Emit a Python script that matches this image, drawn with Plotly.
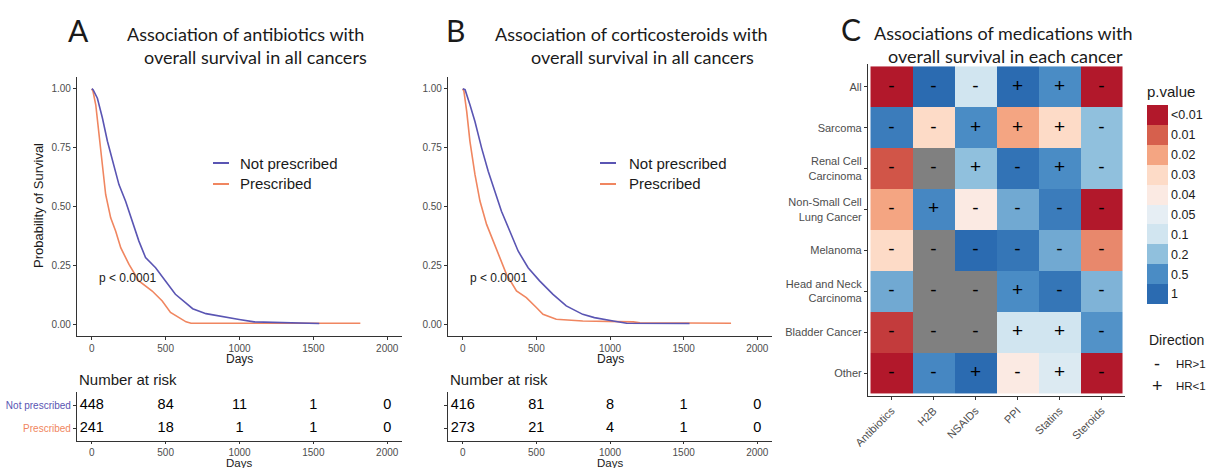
import numpy as np
import plotly.graph_objects as go

W, H = 1206, 468
def px(x): return x / W
def py(y): return 1 - y / H

# ---------------- Data ----------------
# Panel A: antibiotics
a_np_days = [0, 9, 38, 72, 106, 140, 184, 229, 274, 319, 364, 432, 499, 566, 634, 683, 773, 886, 998, 1099, 1268, 1540]
a_np_surv = [1.0, 0.996, 0.96, 0.876, 0.777, 0.692, 0.593, 0.522, 0.438, 0.353, 0.283, 0.240, 0.184, 0.127, 0.092, 0.066, 0.045, 0.031, 0.020, 0.010, 0.007, 0.003]
a_p_days = [0, 8, 27, 49, 72, 94, 128, 162, 196, 252, 319, 409, 477, 533, 591, 638, 672, 1818]
a_p_surv = [1.0, 0.99, 0.932, 0.805, 0.664, 0.551, 0.452, 0.395, 0.325, 0.254, 0.184, 0.141, 0.099, 0.050, 0.028, 0.010, 0.004, 0.004]

# Panel B: corticosteroids
b_np_days = [0, 16, 49, 83, 128, 173, 218, 263, 320, 376, 444, 522, 613, 703, 815, 894, 1022, 1113, 1540]
b_np_surv = [1.0, 0.996, 0.932, 0.861, 0.749, 0.650, 0.565, 0.480, 0.395, 0.311, 0.240, 0.184, 0.127, 0.078, 0.042, 0.028, 0.014, 0.004, 0.003]
b_p_days = [0, 8, 27, 49, 83, 117, 162, 207, 252, 297, 365, 432, 500, 545, 635, 815, 1158, 1203, 1822]
b_p_surv = [1.0, 0.99, 0.904, 0.777, 0.636, 0.523, 0.424, 0.353, 0.283, 0.212, 0.141, 0.113, 0.071, 0.042, 0.021, 0.014, 0.010, 0.006, 0.004]

risk_days = [0, 500, 1000, 1500, 2000]
a_risk_np = [448, 84, 11, 1, 0]
a_risk_p = [241, 18, 1, 1, 0]
b_risk_np = [416, 81, 8, 1, 0]
b_risk_p = [273, 21, 4, 1, 0]

# Panel C: heatmap
medications = ["Antibiotics", "H2B", "NSAIDs", "PPI", "Statins", "Steroids"]
cancers = ["All", "Sarcoma", "Renal Cell<br>Carcinoma", "Non-Small Cell<br>Lung Cancer", "Melanoma",
           "Head and Neck<br>Carcinoma", "Bladder Cancer", "Other"]
nan = float("nan")
pvalues = [
    [0.005, 1.0, 0.1, 1.0, 0.5, 0.005],
    [0.7, 0.03, 0.5, 0.02, 0.03, 0.2],
    [0.009, nan, 0.2, 0.85, 0.5, 0.2],
    [0.02, 0.55, 0.04, 0.3, 0.7, 0.005],
    [0.03, nan, 1.0, 0.8, 0.3, 0.015],
    [0.3, nan, nan, 0.5, 0.8, 0.25],
    [0.007, nan, nan, 0.1, 0.1, 0.45],
    [0.005, 0.55, 1.0, 0.04, 0.07, 0.005],
]
directions = [
    ["-", "-", "-", "+", "+", "-"],
    ["-", "-", "+", "+", "+", "-"],
    ["-", "-", "+", "-", "+", "-"],
    ["-", "+", "-", "-", "-", "-"],
    ["-", "-", "-", "-", "-", "-"],
    ["-", "-", "-", "+", "-", "-"],
    ["-", "-", "-", "+", "+", "-"],
    ["-", "-", "+", "-", "+", "-"],
]
p_breaks = [0.005, 0.01, 0.02, 0.03, 0.04, 0.05, 0.1, 0.2, 0.5, 1.0]
p_labels = ["<0.01", "0.01", "0.02", "0.03", "0.04", "0.05", "0.1", "0.2", "0.5", "1"]
p_colors = ["#B2182B", "#D6604D", "#F4A582", "#FDDBC7", "#FBEAE3",
            "#E6EEF4", "#D1E5F0", "#90C0DD", "#4A8CC5", "#2B6BB1"]

BLUE = "#5A55B3"
ORANGE = "#F08660"
AXC = "#333333"
TICKC = "#4D4D4D"
FONT = "Liberation Sans, Arial, sans-serif"
TFONT = "Lato, Open Sans, sans-serif"

fig = go.Figure()

# KM curves
for xa, ya, d1, s1, d2, s2 in [("x", "y", a_np_days, a_np_surv, a_p_days, a_p_surv),
                               ("x3", "y3", b_np_days, b_np_surv, b_p_days, b_p_surv)]:
    fig.add_trace(go.Scatter(x=d2, y=s2, mode="lines", line=dict(color=ORANGE, width=1.6),
                             xaxis=xa, yaxis=ya, showlegend=False, hoverinfo="skip"))
    fig.add_trace(go.Scatter(x=d1, y=s1, mode="lines", line=dict(color=BLUE, width=1.6),
                             xaxis=xa, yaxis=ya, showlegend=False, hoverinfo="skip"))

# Risk tables
for xa, ya, rnp, rp in [("x2", "y2", a_risk_np, a_risk_p), ("x4", "y4", b_risk_np, b_risk_p)]:
    fig.add_trace(go.Scatter(x=risk_days, y=[2] * len(risk_days), mode="text",
                             text=[str(v) for v in rnp], textfont=dict(size=14.5, color="black", family=FONT),
                             xaxis=xa, yaxis=ya, showlegend=False, hoverinfo="skip"))
    fig.add_trace(go.Scatter(x=risk_days, y=[1] * len(risk_days), mode="text",
                             text=[str(v) for v in rp], textfont=dict(size=14.5, color="black", family=FONT),
                             xaxis=xa, yaxis=ya, showlegend=False, hoverinfo="skip"))

# Heatmap
pv = np.array(pvalues, dtype=float)
idx = np.interp(np.log(np.where(np.isnan(pv), 1.0, pv)), np.log(p_breaks), np.arange(10))
zmain = np.where(np.isnan(pv), np.nan, idx)
zna = np.where(np.isnan(pv), 1.0, np.nan)
cont_scale = [[i / 9, c] for i, c in enumerate(p_colors)]

fig.add_trace(go.Heatmap(z=zna.tolist(), x=medications, y=cancers, colorscale=[[0, "#808080"], [1, "#808080"]],
                         showscale=False, xaxis="x5", yaxis="y5", hoverinfo="skip"))
fig.add_trace(go.Heatmap(z=zmain.tolist(), x=medications, y=cancers, colorscale=cont_scale, zmin=0, zmax=9,
                         showscale=False, xaxis="x5", yaxis="y5", hoverinfo="skip"))
tx, ty, tt = [], [], []
for i, r in enumerate(cancers):
    for j, m in enumerate(medications):
        tx.append(m); ty.append(r); tt.append(directions[i][j])
fig.add_trace(go.Scatter(x=tx, y=ty, text=tt, mode="text", textfont=dict(size=19, color="black", family=FONT),
                         xaxis="x5", yaxis="y5", showlegend=False, hoverinfo="skip"))

# stepped colorbar legend via invisible trace
step_scale = []
for k in range(10):
    c = p_colors[9 - k]
    step_scale.append([k / 10, c])
    step_scale.append([(k + 1) / 10, c])
fig.add_trace(go.Heatmap(z=[[0, 9]], colorscale=step_scale, zmin=-0.5, zmax=9.5, opacity=0,
                         xaxis="x6", yaxis="y6", hoverinfo="skip",
                         colorbar=dict(x=px(1147), xanchor="left", y=py(304), yanchor="bottom",
                                       len=221 / H, lenmode="fraction", thickness=21, thicknessmode="pixels",
                                       xpad=0, ypad=0, outlinewidth=0, ticks="",
                                       tickvals=list(range(10)), ticktext=[p_labels[9 - k] for k in range(10)],
                                       tickfont=dict(size=12.5, color="#1a1a1a", family=FONT),
                                       title=dict(text="p.value", side="top", font=dict(size=15, color="#1a1a1a", family=FONT)))))

axis_common = dict(showline=True, linecolor=AXC, linewidth=1.2, ticks="outside", tickcolor=AXC,
                   showgrid=False, zeroline=False, automargin=False, mirror=False)
tf10 = dict(size=10, color=TICKC, family=FONT)
tf11 = dict(size=11, color=TICKC, family=FONT)

km_x = dict(range=[-100, 2100], tickvals=[0, 500, 1000, 1500, 2000], tickfont=tf10, ticklen=3, **axis_common)
risk_x = dict(range=[-100, 2100], tickvals=[0, 500, 1000, 1500, 2000], tickfont=tf10, ticklen=2, **axis_common)
km_y = dict(range=[-0.05, 1.05], tickvals=[0, 0.25, 0.5, 0.75, 1.0],
            ticktext=["0.00", "0.25", "0.50", "0.75", "1.00"], tickfont=tf10, ticklen=3, **axis_common)
risk_y_common = dict(range=[0.435, 2.565], tickvals=[2, 1], tickfont=tf10, ticklen=3, **axis_common)

fig.update_layout(
    width=W, height=H, margin=dict(l=0, r=0, t=0, b=0, autoexpand=False),
    paper_bgcolor="white", plot_bgcolor="white", showlegend=False,
    xaxis=dict(domain=[px(77), px(402)], anchor="y", **km_x),
    yaxis=dict(domain=[py(336), py(77)], anchor="x", **km_y),
    xaxis2=dict(domain=[px(77), px(402)], anchor="y2", **risk_x),
    yaxis2=dict(domain=[py(441), py(392)], anchor="x2",
                ticktext=["<span style='color:%s'>Not prescribed</span>" % BLUE,
                          "<span style='color:%s'>Prescribed</span>" % ORANGE], **risk_y_common),
    xaxis3=dict(domain=[px(448), px(772)], anchor="y3", **km_x),
    yaxis3=dict(domain=[py(336), py(77)], anchor="x3", **km_y),
    xaxis4=dict(domain=[px(448), px(772)], anchor="y4", **risk_x),
    yaxis4=dict(domain=[py(441), py(392)], anchor="x4", ticktext=["", ""], **risk_y_common),
    xaxis5=dict(domain=[px(868), px(1125)], anchor="y5", type="category", categoryarray=medications,
                range=[-0.56, 5.56], tickangle=-45, tickfont=tf11, ticklen=3, **axis_common),
    yaxis5=dict(domain=[py(396), py(64)], anchor="x5", type="category", categoryarray=cancers,
                range=[7.56, -0.56], tickfont=tf11, ticklen=3, **axis_common),
    xaxis6=dict(domain=[0, 0.001], visible=False, anchor="y6"),
    yaxis6=dict(domain=[0, 0.001], visible=False, anchor="x6"),
)

ann = []
def add_text(x, y, text, size, color="black", family=FONT, xanchor="center", angle=0):
    ann.append(dict(x=px(x), y=py(y), xref="paper", yref="paper", text=text, showarrow=False,
                    font=dict(size=size, color=color, family=family), xanchor=xanchor, yanchor="middle",
                    textangle=angle))

# Panel letters and titles
add_text(78, 30, "A", 30, "#1a1a1a", TFONT)
add_text(245, 34, "Association of antibiotics with", 18, "#1a1a1a", TFONT)
add_text(255, 57, "overall survival in all cancers", 18, "#1a1a1a", TFONT)
add_text(455, 30, "B", 30, "#1a1a1a", TFONT)
add_text(632, 34, "Association of corticosteroids with", 18, "#1a1a1a", TFONT)
add_text(642, 57, "overall survival in all cancers", 18, "#1a1a1a", TFONT)
add_text(851, 29, "C", 30, "#1a1a1a", TFONT)
add_text(1003, 33, "Associations of medications with", 18, "#1a1a1a", TFONT)
add_text(1005, 56, "overall survival in each cancer", 18, "#1a1a1a", TFONT)

# axis titles
add_text(38, 206, "Probability of Survival", 13, "#1a1a1a", angle=-90)
for cx in (239, 610):
    add_text(cx, 359, "Days", 12, "#1a1a1a")
    add_text(cx, 462.5, "Days", 11.5, "#1a1a1a")
add_text(77, 379, "Number at risk", 15, "#1a1a1a", xanchor="left")
add_text(448, 379, "Number at risk", 15, "#1a1a1a", xanchor="left")

# KM legends
shapes = []
for lx, tx0 in ((213, 238), (600, 627)):
    shapes.append(dict(type="line", xref="paper", yref="paper", x0=px(lx), x1=px(lx + 16), y0=py(163), y1=py(163),
                       line=dict(color=BLUE, width=2)))
    shapes.append(dict(type="line", xref="paper", yref="paper", x0=px(lx), x1=px(lx + 16), y0=py(184), y1=py(184),
                       line=dict(color=ORANGE, width=2)))
    add_text(tx0, 163, "Not prescribed", 15, "#1a1a1a", xanchor="left")
    add_text(tx0, 184, "Prescribed", 15, "#1a1a1a", xanchor="left")

add_text(97, 278, "p < 0.0001", 12, "#1a1a1a", xanchor="left")
add_text(468, 278, "p < 0.0001", 12, "#1a1a1a", xanchor="left")

# Direction legend
add_text(1147, 340, "Direction", 14, "#1a1a1a", xanchor="left")
add_text(1157, 364, "-", 18, "#1a1a1a")
add_text(1174, 364, "HR>1", 11.5, "#1a1a1a", xanchor="left")
add_text(1157, 386, "+", 18, "#1a1a1a")
add_text(1174, 386, "HR<1", 11.5, "#1a1a1a", xanchor="left")

fig.update_layout(annotations=ann, shapes=shapes)
fig.write_html("out.html", config={"displayModeBar": False},
               post_script="document.body.style.margin='0px';document.body.style.overflow='hidden';")
